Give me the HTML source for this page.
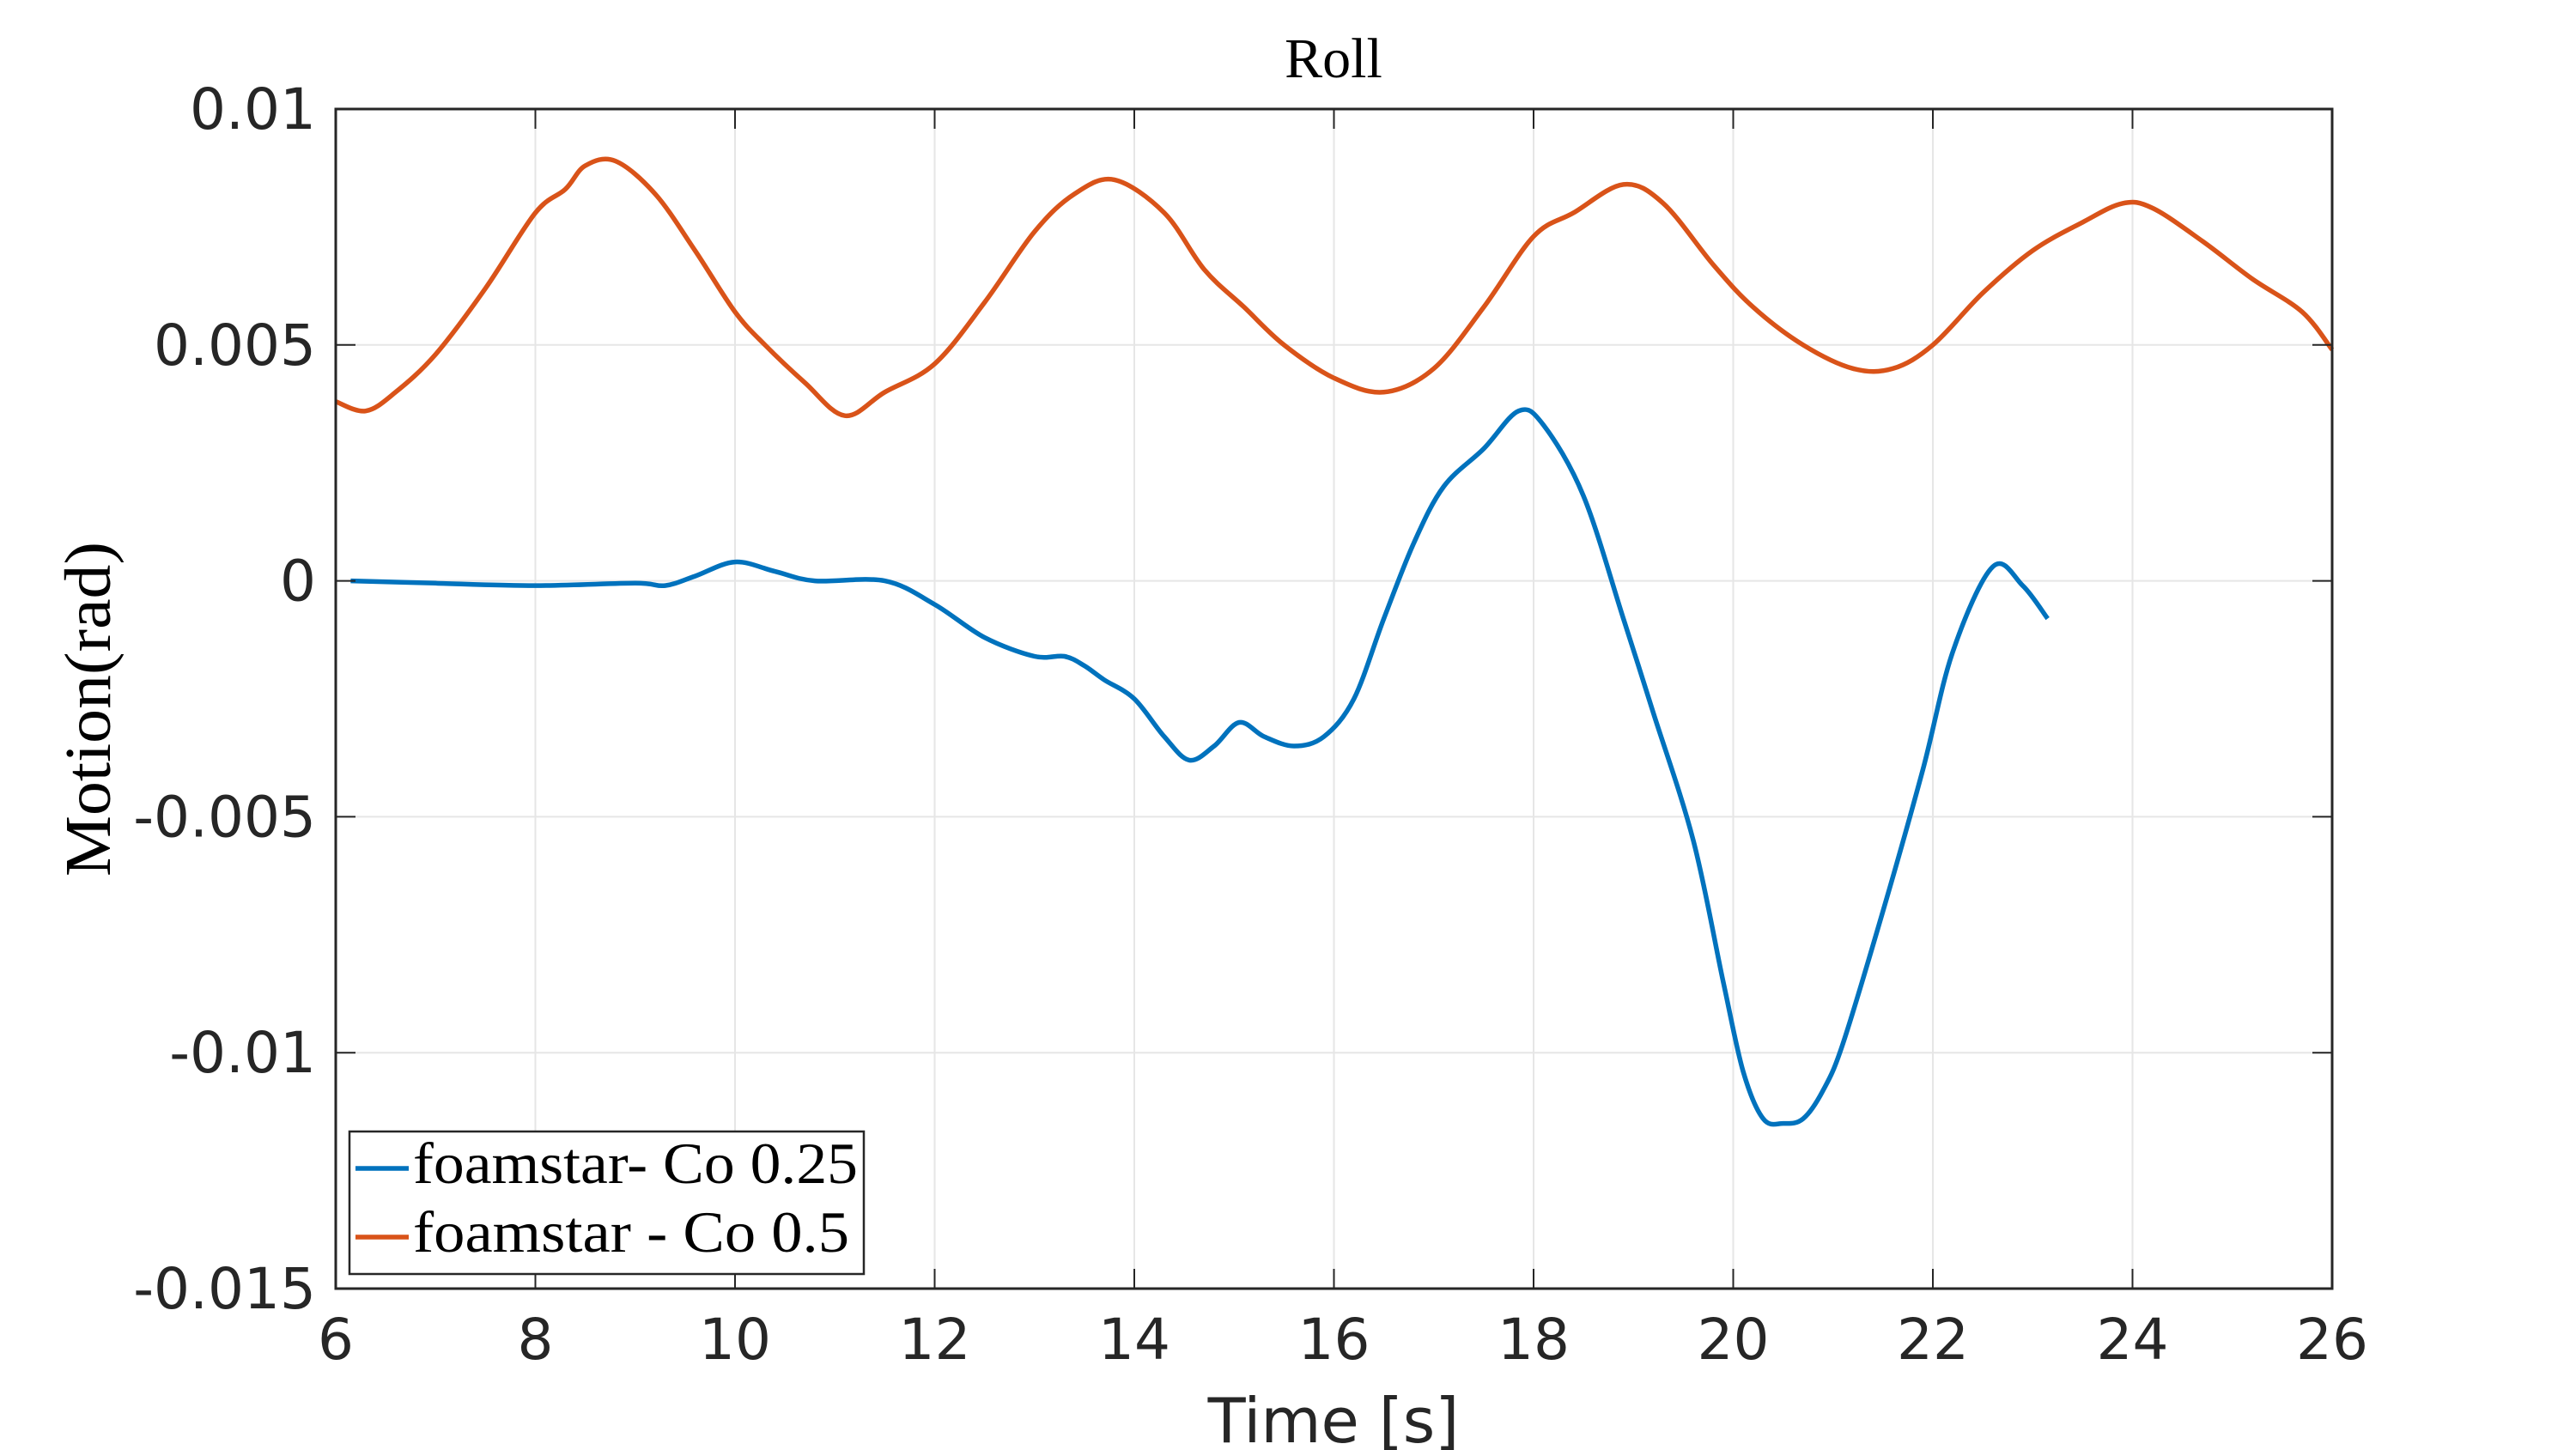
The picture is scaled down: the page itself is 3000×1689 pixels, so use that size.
<!DOCTYPE html>
<html><head><meta charset="utf-8"><style>
html,body{margin:0;padding:0;background:#fff;}
svg{display:block;}
</style></head><body>
<svg id="chart" width="3000" height="1689" viewBox="0 0 3000 1689" xmlns="http://www.w3.org/2000/svg">
<rect x="0" y="0" width="3000" height="1689" fill="#fff"/>
<g id="grid"></g>
<g id="series"></g>
<rect x="391" y="127" width="2325" height="1374" fill="none" stroke="#262626" stroke-width="3"/>
<g id="ticks"></g>
<text x="1553" y="90" text-anchor="middle" font-family="Liberation Serif, serif" font-size="66" fill="#000">Roll</text>
<text x="1553" y="1680" text-anchor="middle" font-family="DejaVu Sans, sans-serif" font-size="72" fill="#262626">Time [s]</text>
<text transform="translate(128,826) rotate(-90)" text-anchor="middle" font-family="Liberation Serif, serif" font-size="76" textLength="390" lengthAdjust="spacingAndGlyphs" fill="#000">Motion(rad)</text>
<g>
<rect x="407" y="1318" width="599" height="166" fill="#fff" stroke="#262626" stroke-width="2.5"/>
<line x1="414" y1="1361" x2="476" y2="1361" stroke="#0072BD" stroke-width="5.5"/>
<text x="481" y="1378" font-family="Liberation Serif, serif" font-size="68" textLength="518" lengthAdjust="spacingAndGlyphs" fill="#000">foamstar- Co 0.25</text>
<line x1="414" y1="1441" x2="476" y2="1441" stroke="#D95319" stroke-width="5.5"/>
<text x="481" y="1458" font-family="Liberation Serif, serif" font-size="68" textLength="508" lengthAdjust="spacingAndGlyphs" fill="#000">foamstar - Co 0.5</text>
</g>
</svg>
<script>
const xTicks = [6,8,10,12,14,16,18,20,22,24,26];
const yTicks = [0.01,0.005,0,-0.005,-0.01,-0.015];
const yTickLabels = ["0.01","0.005","0","-0.005","-0.01","-0.015"];
const blueT = [6.15,7,8,9,9.3,9.6,10,10.4,10.8,11.5,12,12.5,13,13.3,13.5,13.7,14,14.3,14.55,14.8,15.05,15.3,15.6,15.9,16.2,16.5,16.8,17.1,17.5,17.85,18.1,18.5,18.9,19.2,19.6,19.9,20.1,20.3,20.5,20.7,20.9,21.1,21.5,21.9,22.2,22.6,22.9,23.15];
const blueV = [0,-0.00005,-0.0001,-0.00005,-0.0001,0.0001,0.0004,0.0002,0,0,-0.0005,-0.0012,-0.0016,-0.0016,-0.0018,-0.0021,-0.0025,-0.0033,-0.0038,-0.0035,-0.003,-0.0033,-0.0035,-0.0033,-0.0025,-0.0008,0.0008,0.002,0.0028,0.0036,0.0033,0.0018,-0.0008,-0.0028,-0.0055,-0.0085,-0.0104,-0.0114,-0.0115,-0.0114,-0.0108,-0.0098,-0.007,-0.004,-0.0015,0.0003,-0.0001,-0.0008];
const orangeT = [6,6.3,6.6,7,7.5,8,8.3,8.5,8.8,9.2,9.6,10,10.3,10.7,11.1,11.5,12,12.5,13,13.4,13.8,14.3,14.7,15.1,15.5,16,16.5,17,17.5,18,18.4,18.9,19.3,19.8,20.2,20.7,21.2,21.6,22,22.5,23,23.5,23.9,24.2,24.7,25.2,25.7,26];
const orangeV = [0.0038,0.0036,0.004,0.0048,0.0062,0.0078,0.0083,0.0088,0.0089,0.0082,0.007,0.0057,0.005,0.0042,0.0035,0.004,0.0046,0.0059,0.0074,0.0082,0.0085,0.0078,0.0066,0.0058,0.005,0.0043,0.004,0.0045,0.0058,0.0073,0.0078,0.0084,0.008,0.0067,0.0058,0.005,0.0045,0.0045,0.005,0.0061,0.007,0.0076,0.008,0.0079,0.0072,0.0064,0.0057,0.0049];

const NS = "http://www.w3.org/2000/svg";
const L = 391, R = 2716, T = 127, B = 1501;
function xs(t){ return L + (t - 6) / 20 * (R - L); }
function ys(v){ return T + (0.01 - v) / 0.025 * (B - T); }
function mk(tag, attrs, parent){ const e = document.createElementNS(NS, tag); for (const k in attrs) e.setAttribute(k, attrs[k]); parent.appendChild(e); return e; }
const grid = document.getElementById('grid'), ticks = document.getElementById('ticks'), series = document.getElementById('series');
xTicks.forEach(t => {
  const g = mk('line', {x1: xs(t), x2: xs(t), y1: T, y2: B, stroke: '#e6e6e6', 'stroke-width': 2}, grid);
  
  
  const k1 = mk('line', {x1: xs(t), x2: xs(t), y1: B, y2: B - 23, stroke: '#262626', 'stroke-width': 2}, ticks);
  
  
  const k2 = mk('line', {x1: xs(t), x2: xs(t), y1: T, y2: T + 23, stroke: '#262626', 'stroke-width': 2}, ticks);
  
  
  const lb = mk('text', {x: xs(t), y: 1583, 'text-anchor': 'middle', 'font-family': 'DejaVu Sans, sans-serif', 'font-size': 66, fill: '#262626'}, ticks);
  lb.textContent = String(t);
  
  
});
yTicks.forEach((v, i) => {
  const g = mk('line', {x1: L, x2: R, y1: ys(v), y2: ys(v), stroke: '#e6e6e6', 'stroke-width': 2}, grid);
  
  
  const k1 = mk('line', {x1: L, x2: L + 23, y1: ys(v), y2: ys(v), stroke: '#262626', 'stroke-width': 2}, ticks);
  
  
  const k2 = mk('line', {x1: R, x2: R - 23, y1: ys(v), y2: ys(v), stroke: '#262626', 'stroke-width': 2}, ticks);
  
  
  const lb = mk('text', {x: 368, y: ys(v) + 23, 'text-anchor': 'end', 'font-family': 'DejaVu Sans, sans-serif', 'font-size': 66, fill: '#262626'}, ticks);
  lb.textContent = yTickLabels[i];
  
  
});
function path(ts, vs){
  const p = ts.map((t, i) => [xs(t), ys(vs[i])]);
  let d = 'M' + p[0][0].toFixed(1) + ',' + p[0][1].toFixed(1);
  for (let i = 0; i < p.length - 1; i++) {
    const p0 = p[Math.max(i - 1, 0)], p1 = p[i], p2 = p[i + 1], p3 = p[Math.min(i + 2, p.length - 1)];
    const c1x = p1[0] + (p2[0] - p0[0]) / 6, c1y = p1[1] + (p2[1] - p0[1]) / 6;
    const c2x = p2[0] - (p3[0] - p1[0]) / 6, c2y = p2[1] - (p3[1] - p1[1]) / 6;
    d += ' C' + c1x.toFixed(1) + ',' + c1y.toFixed(1) + ' ' + c2x.toFixed(1) + ',' + c2y.toFixed(1) + ' ' + p2[0].toFixed(1) + ',' + p2[1].toFixed(1);
  }
  return d;
}
const po = mk('path', {d: path(orangeT, orangeV), fill: 'none', stroke: '#D95319', 'stroke-width': 5.5, 'stroke-linejoin': 'round'}, series);


const pb = mk('path', {d: path(blueT, blueV), fill: 'none', stroke: '#0072BD', 'stroke-width': 5.5, 'stroke-linejoin': 'round'}, series);


</script>
</body></html>
